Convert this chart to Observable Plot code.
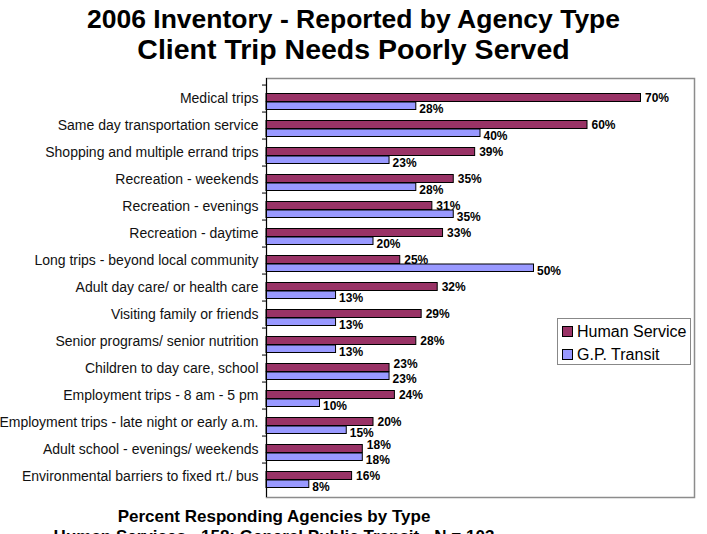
<!DOCTYPE html>
<html>
<head>
<meta charset="utf-8">
<script src="https://cdn.jsdelivr.net/npm/d3@7"></script>
<script src="https://cdn.jsdelivr.net/npm/@observablehq/plot@0.6"></script>
<style>
  html, body { margin: 0; padding: 0; background: #fff; }
  #wrap { position: relative; width: 707px; height: 534px; overflow: hidden; font-family: "Liberation Sans", Arial, sans-serif; }
  .t { position: absolute; left: 0; width: 707px; text-align: center; font-weight: bold; color: #000; line-height: 1; white-space: nowrap; }
  .cap { position: absolute; left: 0; width: 548px; text-align: center; font-weight: bold; font-size: 17px; line-height: 1; color: #000; white-space: nowrap; }
  #chart { position: absolute; left: 0; top: 70px; }
  #legend { position: absolute; left: 557px; top: 318px; width: 134px; height: 47px; border: 1px solid #888; background: #fff; box-sizing: border-box; }
  .li { position: absolute; left: 4px; font-size: 16px; line-height: 1; color: #000; white-space: nowrap; }
  .sw { display: inline-block; width: 9px; height: 9px; border: 1px solid #000; margin-right: 4px; vertical-align: 0px; }
</style>
</head>
<body>
<div id="wrap">
  <div class="t" style="top:5.5px;font-size:26.5px;">2006 Inventory - Reported by Agency Type</div>
  <div class="t" style="top:35px;font-size:28.5px;">Client Trip Needs Poorly Served</div>
  <div id="chart"></div>
  <div id="legend"></div>
  <div class="cap" style="top:507.5px;">Percent Responding Agencies by Type</div>
  <div class="cap" style="top:528px;">Human Services - 158; General Public Transit - N = 103</div>
</div>
<script>
const categories = [
  "Medical trips",
  "Same day transportation service",
  "Shopping and multiple errand trips",
  "Recreation - weekends",
  "Recreation - evenings",
  "Recreation - daytime",
  "Long trips - beyond local community",
  "Adult day care/ or health care",
  "Visiting family or friends",
  "Senior programs/ senior nutrition",
  "Children to day care, school",
  "Employment trips - 8 am - 5 pm",
  "Employment trips - late night or early a.m.",
  "Adult school - evenings/ weekends",
  "Environmental barriers to fixed rt./ bus"
];
const humanService = [70, 60, 39, 35, 31, 33, 25, 32, 29, 28, 23, 24, 20, 18, 16];
const gpTransit    = [28, 40, 23, 28, 35, 20, 50, 13, 13, 13, 23, 10, 15, 18, 8];
const seriesNames = ["Human Service", "G.P. Transit"];
const seriesColors = ["#993366", "#9999FF"];

const humanRows = categories.map((c, i) => ({cat: c, value: humanService[i], close: Math.abs(humanService[i] - gpTransit[i]) < 3}));
const transitRows = categories.map((c, i) => ({cat: c, value: gpTransit[i]}));

const font = "'Liberation Sans', Arial, sans-serif";

const plot = Plot.plot({
  width: 707,
  height: 440,
  marginLeft: 266,
  marginRight: 13,
  marginTop: 8,
  marginBottom: 13,
  style: {fontFamily: font, overflow: "visible", background: "transparent"},
  x: {domain: [0, 80], axis: null},
  y: {domain: categories, padding: 0, axis: null, label: null},
  marks: [
    Plot.frame({stroke: "#8c8c8c", strokeWidth: 1.5}),
    Plot.barX(humanRows, {x: "value", y: "cat", fill: seriesColors[0], stroke: "#000", strokeWidth: 1, insetTop: 8.5, insetBottom: 10.5}),
    Plot.barX(transitRows, {x: "value", y: "cat", fill: seriesColors[1], stroke: "#000", strokeWidth: 1, insetTop: 17, insetBottom: 2.5}),
    Plot.text(humanRows.filter(d => !d.close), {x: "value", y: "cat", text: d => d.value + "%", dx: 4, dy: -1.3, textAnchor: "start", fontWeight: "bold", fontSize: 12, fill: "#000"}),
    Plot.text(humanRows.filter(d => d.close), {x: "value", y: "cat", text: d => d.value + "%", dx: 4, dy: -5, textAnchor: "start", fontWeight: "bold", fontSize: 12, fill: "#000"}),
    Plot.text(transitRows, {x: "value", y: "cat", text: d => d.value + "%", dx: 3, dy: 10.5, textAnchor: "start", fontWeight: "bold", fontSize: 12, fill: "#000"}),
    Plot.ruleX([0], {stroke: "#000", strokeWidth: 1}),
    Plot.axisY({tickSize: 0, tickPadding: 8, fontSize: 14, fill: "#111", label: null}),
    Plot.axisY({tickSize: 4, tickFormat: () => "", dy: -13.95, stroke: "#000", label: null})
  ]
});
document.getElementById("chart").appendChild(plot);

const legend = document.getElementById("legend");
seriesNames.forEach((name, i) => {
  const row = document.createElement("div");
  row.className = "li";
  row.style.top = (5 + i * 23) + "px";
  const sw = document.createElement("span");
  sw.className = "sw";
  sw.style.background = seriesColors[i];
  row.appendChild(sw);
  row.appendChild(document.createTextNode(name));
  legend.appendChild(row);
});
</script>
</body>
</html>
